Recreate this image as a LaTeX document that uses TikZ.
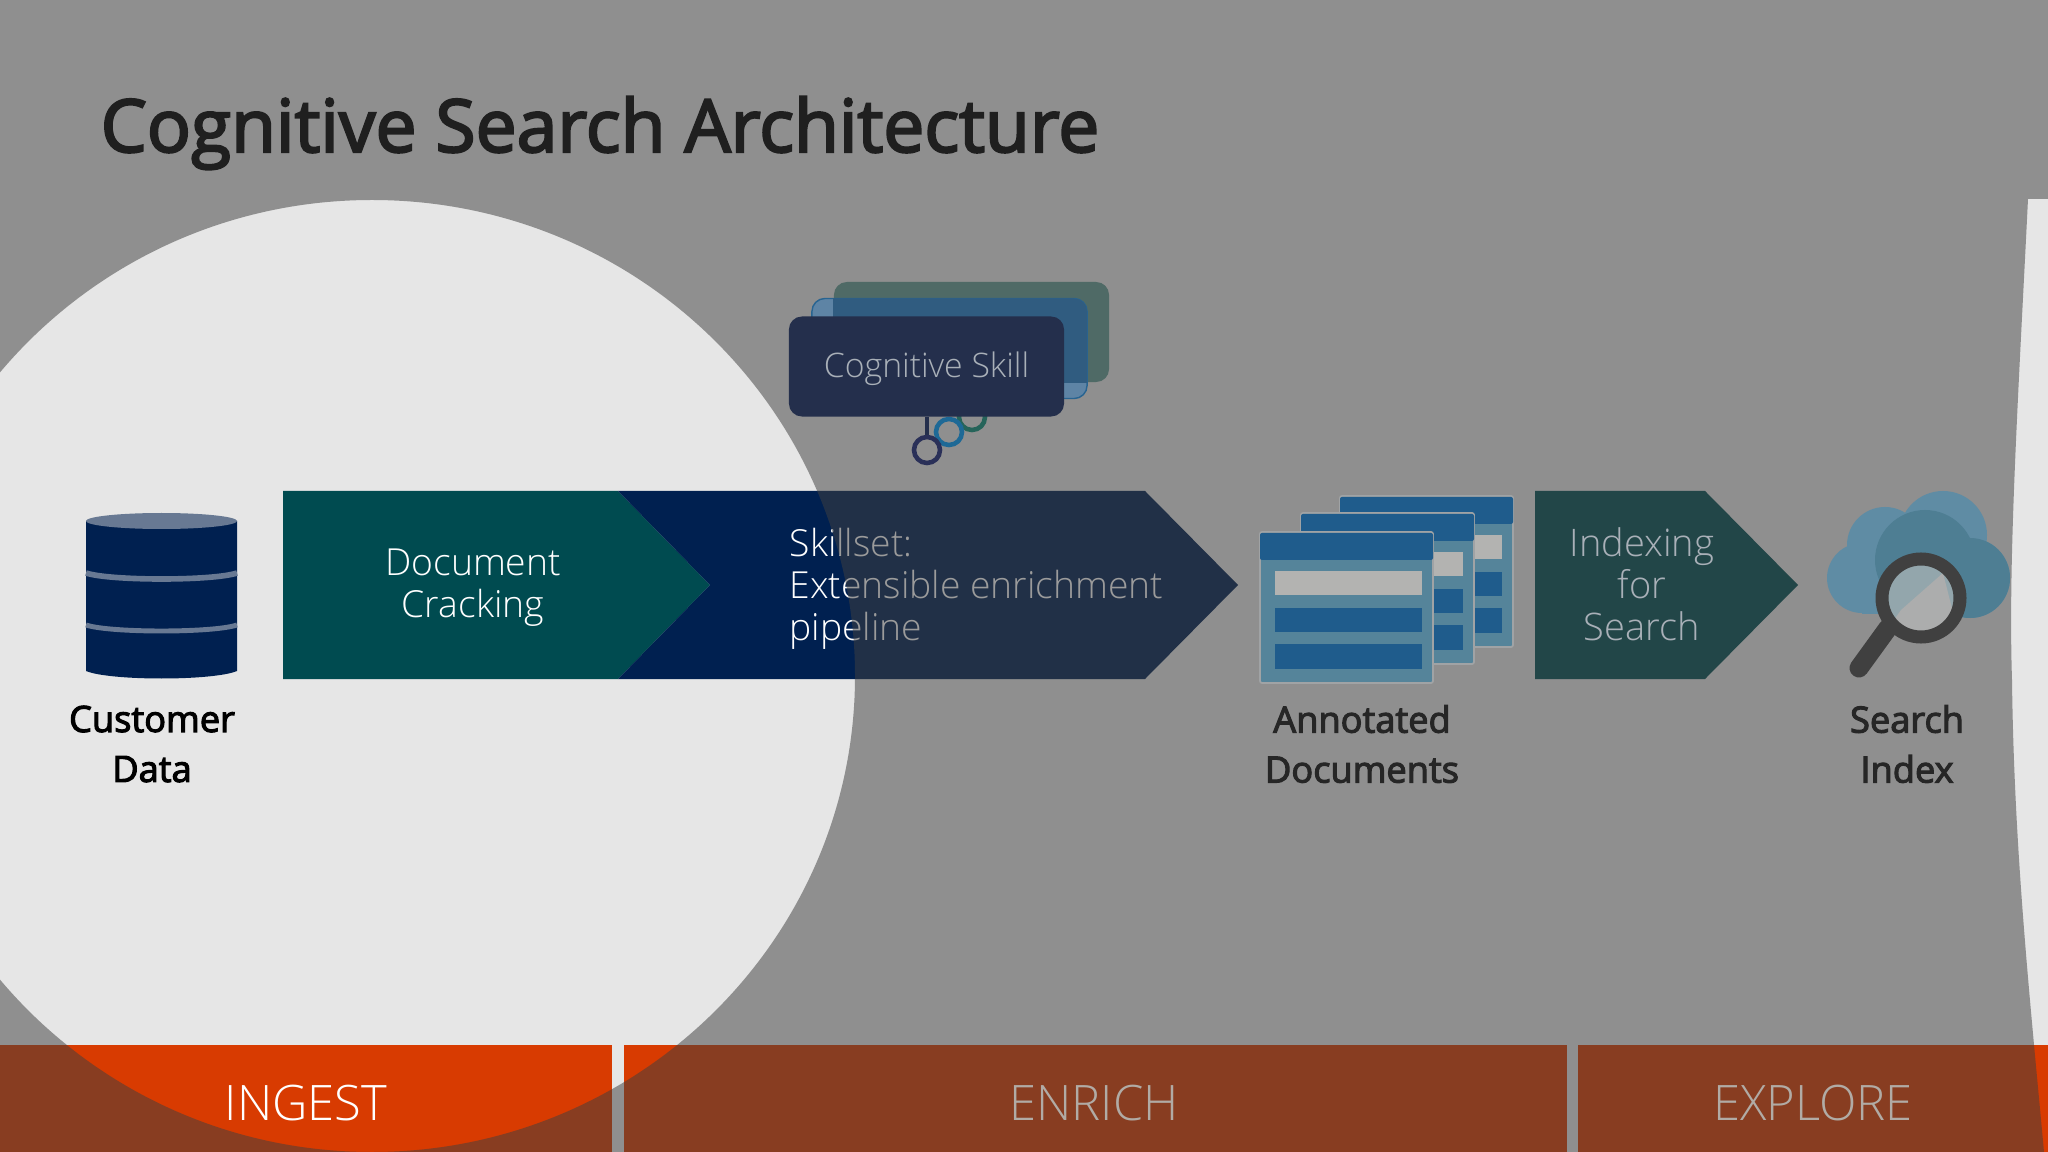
\documentclass[tikz,border=0pt]{standalone}
\usepackage{fontspec}
\setmainfont{Open Sans}
\newfontfamily\lightfont[UprightFont=* Light]{Open Sans}
\newfontfamily\semifont[FakeBold=3]{Open Sans}
\definecolor{bgbright}{HTML}{E6E6E6}
\definecolor{tealbright}{HTML}{004B50}
\definecolor{navybright}{HTML}{002050}
\definecolor{orangebright}{HTML}{D83B01}
\definecolor{dimcol}{HTML}{404040}
\definecolor{dimtext}{HTML}{A9B0B8}
\definecolor{docbody}{HTML}{55849A}
\definecolor{dochead}{HTML}{1F5C8C}
\definecolor{docbar}{HTML}{B3B3B1}
\definecolor{docedge}{HTML}{A0A3A5}
\definecolor{cardgreen}{HTML}{4F6A66}
\definecolor{cardblue}{HTML}{5E84A5}
\definecolor{cardmix}{HTML}{305C80}
\definecolor{cardnavy}{HTML}{242F4C}
\definecolor{cardedge}{HTML}{286491}
\definecolor{ringgreen}{HTML}{26645A}
\definecolor{ringblue}{HTML}{1E6996}
\definecolor{ringnavy}{HTML}{2A3058}
\definecolor{indexgreen}{HTML}{224648}
\definecolor{cloudlight}{HTML}{5F8CA4}
\definecolor{clouddark}{HTML}{4E7E93}
\definecolor{glassblue}{HTML}{93A6AC}
\definecolor{glassgray}{HTML}{ACADAD}
\definecolor{lensgray}{HTML}{404040}
\tikzset{
    CA1/.style ={rectangle,rounded corners=.13cm,minimum width = 2.75cm, minimum height =1cm,inner sep=0pt},
    RI1/.style ={circle,minimum width = .26cm,inner sep=0pt,draw,line width=1.3pt},
    TX1/.style ={font=\lightfont\fontsize{10.6}{11.9}\selectfont,align=center,text=white},
    TX2/.style ={font=\semifont\fontsize{10.3}{14.2}\selectfont,align=center},
    TX3/.style ={font=\lightfont\fontsize{13.9}{16}\selectfont,inner sep=0pt}}

\begin{document}
\begin{tikzpicture}[x=.01cm,y=-.01cm]
        \useasboundingbox (0,0) rectangle (2048,1152);
        \clip (0,0) rectangle (2048,1152);
        % everything that the light passes over
        \fill[bgbright] (0,0) rectangle (2048,1152);
        \fill[orangebright] (0,1045) rectangle (612,1152);
        \fill[orangebright] (624,1045) rectangle (1567,1152);
        \fill[orangebright] (1578,1045) rectangle (2048,1152);
        \node[TX3,text=white] (ingest) at (306,1103) {INGEST};
        \fill[tealbright] (283,491) -- (618,491) -- (710,585) -- (618,679) -- (283,679) -- cycle;
        \fill[navybright] (618,491) -- (1145,491) -- (1238,585) -- (1145,679) -- (618,679) -- (710,585) -- cycle;
        \node[TX1] (crack) at (473,588) {Document\\Cracking};
        \node[TX1,align=left,anchor=west,inner sep=0pt] (skill) at (789,589) {Skillset:\\Extensible enrichment\\pipeline};
        % cylinder
        \fill[navybright] (86,521) -- (86,671) .. controls (110,681) and (213,681) .. (237,671) -- (237,521) -- cycle;
        \fill[navybright!55!bgbright] (161.5,521) ellipse [x radius=75.5,y radius=8];
        \draw[navybright!55!bgbright,line width=1.6pt] (86,573) .. controls (110,581) and (213,581) .. (237,573);
        \draw[navybright!55!bgbright,line width=1.4pt] (86,625) .. controls (110,633) and (213,633) .. (237,625);
        \node[TX2] (cust) at (152,744) {Customer\\Data};
        % dim everything but the light
        \fill[dimcol,fill opacity=.52,even odd rule] (-200,-10) rectangle (2100,1170)
            (372,676) ellipse [x radius=483,y radius=476]
            (2100,199) -- (2028,199) .. controls (2018,400) and (2008,560) .. (2012,680) .. controls (2014,850) and (2030,1000) .. (2044,1152) -- (2046,1170) -- (2100,1170) -- cycle;
        % the rest sits in the dim part
        \node[font=\semifont\fontsize{20.8}{24}\selectfont,text=black!88,anchor=base west,inner sep=0pt] (title) at (100,152) {Cognitive Search Architecture};
        \node[TX3,text=dimtext!90!orange] (enrich) at (1094,1103) {ENRICH};
        \node[TX3,text=dimtext!90!orange] (explore) at (1813,1103) {EXPLORE};
        % cards
        \node[CA1,fill=cardgreen] (card3) at (971.5,332) {};
        \node[CA1,fill=cardblue,draw=cardedge,line width=.4pt] (card2) at (949.5,348.5) {};
        \begin{scope}
            \clip (card3.south west) rectangle (card3.north east);
            \node[CA1,fill=cardmix] at (card2) {};
        \end{scope}
        \node[RI1,draw=ringgreen] (ring3) at (972,417) {};
        \node[RI1,draw=ringblue] (ring2) at (949,432) {};
        \node[RI1,draw=ringnavy] (ring1) at (927,450) {};
        \node[CA1,fill=cardnavy,text=dimtext,font=\lightfont\fontsize{9.6}{12}\selectfont] (card1) at (926.5,366.5) {\raisebox{-.105cm}[0pt][0pt]{Cognitive Skill}};
        \draw[cardnavy,line width=1.3pt] (card1.south -| ring1) -- (ring1);
        % documents
        \foreach \dx/\dy in {80/-36,41/-19,0/0}
        {
            \begin{scope}[shift={(\dx,\dy)}]
                \draw[docedge,fill=docbody,line width=.5pt,rounded corners=.02cm] (1260,532) rectangle (1433,683);
                \fill[dochead,rounded corners=.02cm] (1260,533) -- (1433,533) -- (1433,560) -- (1260,560) -- cycle;
                \fill[docbar] (1275,571) rectangle (1422,595);
                \fill[dochead] (1275,608) rectangle (1422,632);
                \fill[dochead] (1275,644) rectangle (1422,669);
            \end{scope}
        }
        \node[TX2,text=black!85] (annot) at (1362,744) {Annotated\\Documents};
        % indexing
        \fill[indexgreen] (1535,491) -- (1705,491) -- (1798,585) -- (1705,679) -- (1535,679) -- cycle;
        \node[TX1,text=dimtext,font=\lightfont\fontsize{10.8}{11.9}\selectfont] (index) at (1642,584) {Indexing\\for\\Search};
        % cloud and lens
        \foreach \cx/\cy/\cr in {1943/535/44,1885/545/38,1862/578/35,1970/578/40}
            \fill[cloudlight] (\cx,\cy) circle (\cr);
        \fill[cloudlight] (1862,570) rectangle (1970,614);
        \foreach \cx/\cy/\cr in {1925/560/50,1970/578/40}
            \fill[clouddark] (\cx,\cy) circle (\cr);
        \fill[clouddark] (1880,570) rectangle (1970,616);
        \fill[glassblue] (1921,598) circle (34);
        \begin{scope}
            \clip (1921,598) circle (34);
            \fill[glassgray] (1901,610) -- (1943,573) -- (1960,640) -- (1880,640) -- cycle;
        \end{scope}
        \draw[lensgray,line width=3.7pt] (1921,598) circle (39);
        \draw[lensgray,line width=5.4pt,line cap=round] (1888,628) -- (1859,668);
        \node[TX2,text=black!85] (search) at (1907,744) {Search\\Index};
\end{tikzpicture}
\end{document}
